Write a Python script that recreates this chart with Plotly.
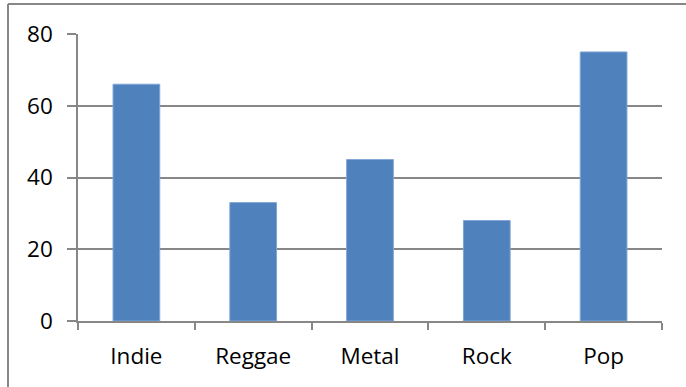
import plotly.graph_objects as go

genres = ["Indie", "Reggae", "Metal", "Rock", "Pop"]
counts = [66, 33, 45, 28, 75]
y_ticks = [0, 20, 40, 60, 80]

W, H = 686, 387
L, R, T, B = 78, 24, 34, 65.5
plot_w = W - L - R
plot_h = H - T - B

grey = "#878787"
font = dict(family="'Open Sans', Lato, sans-serif", size=22.5, color="#000000")

fig = go.Figure(
    go.Bar(
        x=genres,
        y=counts,
        marker=dict(color="#4F81BD", line=dict(color="#7EA6D6", width=1)),
        hoverinfo="x+y",
    )
)

# chart-area frame (top and left edges)
fx = (8 - L) / plot_w
fy = 1 + (T - 4) / plot_h
fig.add_shape(type="line", xref="paper", yref="paper", x0=fx, x1=1.2, y0=fy, y1=fy,
              line=dict(color=grey, width=2))
fig.add_shape(type="line", xref="paper", yref="paper", x0=fx, x1=fx, y0=fy, y1=-0.5,
              line=dict(color=grey, width=2))

fig.update_layout(
    width=W, height=H,
    margin=dict(l=L, r=R, t=T, b=B, pad=0),
    paper_bgcolor="white", plot_bgcolor="white",
    bargap=0.6,
    showlegend=False,
    font=font,
    xaxis=dict(
        type="category",
        showgrid=False,
        showline=True, linecolor=grey, linewidth=1.5,
        ticks="outside", tickson="boundaries", ticklen=7, tickcolor=grey, tickwidth=1.5,
        ticklabelstandoff=14,
        tickfont=font,
    ),
    yaxis=dict(
        range=[0, 80],
        tickvals=y_ticks,
        showgrid=True, gridcolor=grey, gridwidth=1.5,
        zeroline=False,
        showline=True, linecolor=grey, linewidth=1.5,
        ticks="outside", ticklen=9, tickcolor=grey, tickwidth=1.5,
        ticklabelstandoff=10,
        tickfont=font,
    ),
)

fig.write_html("out.html")
